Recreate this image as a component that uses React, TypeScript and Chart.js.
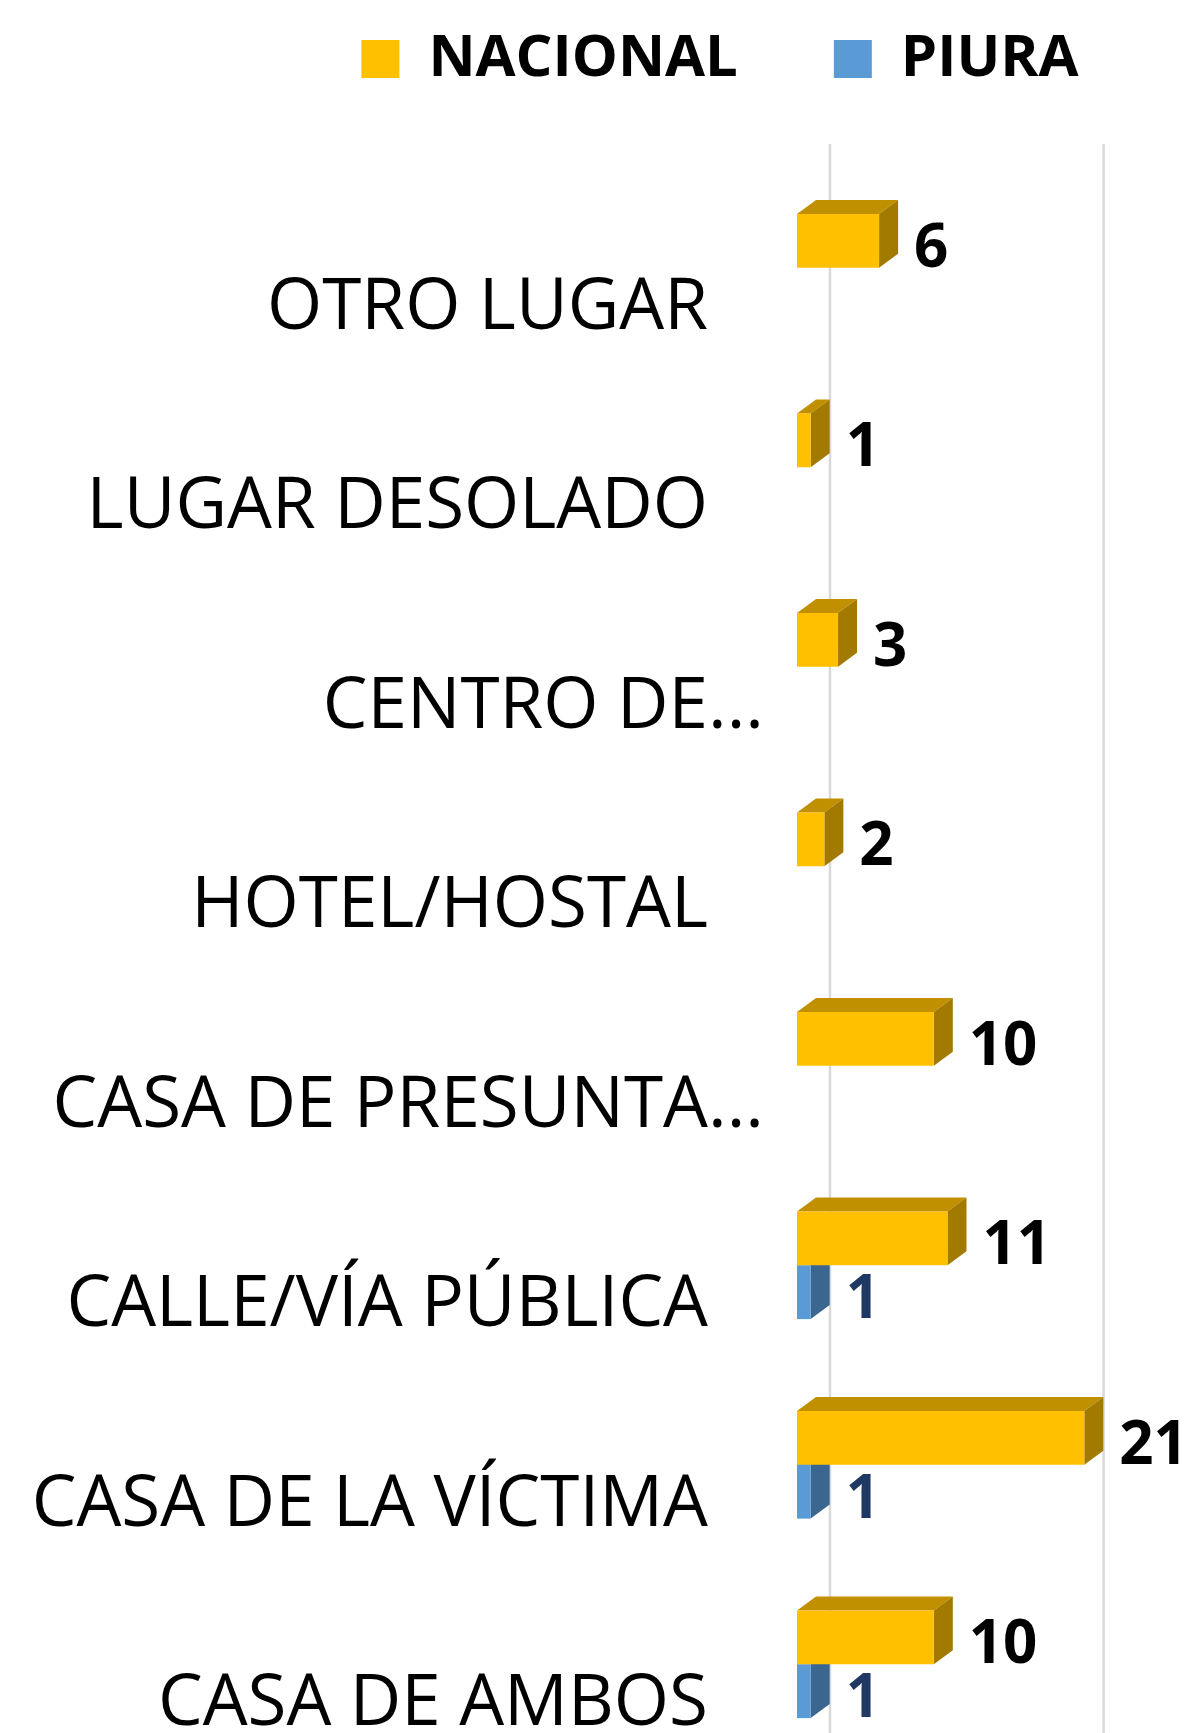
import React, { useEffect, useRef } from "react";
import { Chart, registerables } from "chart.js";

Chart.register(...registerables);

// ---- data ----
const categories = [
  "OTRO LUGAR",
  "LUGAR DESOLADO",
  "CENTRO DE...",
  "HOTEL/HOSTAL",
  "CASA DE PRESUNTA...",
  "CALLE/VÍA PÚBLICA",
  "CASA DE LA VÍCTIMA",
  "CASA DE AMBOS",
];
const seriesNames = ["NACIONAL", "PIURA"];
const nacional: (number | null)[] = [6, 1, 3, 2, 10, 11, 21, 10];
const piura: (number | null)[] = [null, null, null, null, null, 1, 1, 1];
const gridValues = [0, 20, 40];

// ---- style ----
const FONT = '"Open Sans", "Noto Sans", sans-serif';
const DX = 19;
const DY = 14;
const WALL_DX = 33;
const WALL_DY = 24;
const shades = [
  { front: "#FFC000", top: "#C09000", side: "#A37A00", label: "#000000" },
  { front: "#5B9BD5", top: "#4A7FB0", side: "#3A6690", label: "#1F3864" },
];

const threeDPlugin = {
  id: "threeD",
  beforeDatasetsDraw(chart: any) {
    const { ctx, chartArea, scales } = chart;
    const x = scales.x;
    ctx.save();
    ctx.strokeStyle = "#D9D9D9";
    ctx.lineWidth = 2.5;
    gridValues.forEach((v) => {
      const px = x.getPixelForValue(v) + WALL_DX;
      ctx.beginPath();
      ctx.moveTo(px, chartArea.top - WALL_DY);
      ctx.lineTo(px, chartArea.bottom);
      ctx.stroke();
    });
    for (const di of [1, 0]) {
      const meta = chart.getDatasetMeta(di);
      meta.data.forEach((el: any, i: number) => {
        const v = chart.data.datasets[di].data[i];
        if (v == null) return;
        const p = el.getProps(["x", "y", "base", "height"], true);
        const top = p.y - p.height / 2;
        const bottom = p.y + p.height / 2;
        ctx.fillStyle = shades[di].top;
        ctx.beginPath();
        ctx.moveTo(p.base, top);
        ctx.lineTo(p.base + DX, top - DY);
        ctx.lineTo(p.x + DX, top - DY);
        ctx.lineTo(p.x, top);
        ctx.closePath();
        ctx.fill();
        ctx.fillStyle = shades[di].side;
        ctx.beginPath();
        ctx.moveTo(p.x, top);
        ctx.lineTo(p.x + DX, top - DY);
        ctx.lineTo(p.x + DX, bottom - DY);
        ctx.lineTo(p.x, bottom);
        ctx.closePath();
        ctx.fill();
      });
    }
    ctx.restore();
  },
  afterDatasetsDraw(chart: any) {
    const { ctx, chartArea, scales } = chart;
    const yScale = scales.y;
    ctx.save();
    // value labels
    ctx.font = `bold 60px ${FONT}`;
    ctx.textAlign = "left";
    ctx.textBaseline = "middle";
    for (const di of [0, 1]) {
      const meta = chart.getDatasetMeta(di);
      meta.data.forEach((el: any, i: number) => {
        const v = chart.data.datasets[di].data[i];
        if (v == null) return;
        const p = el.getProps(["x", "y"], true);
        ctx.fillStyle = shades[di].label;
        ctx.fillText(String(v), p.x + DX + 16, p.y + 9);
      });
    }
    // category labels
    ctx.font = `71px ${FONT}`;
    ctx.fillStyle = "#000000";
    const xr = chartArea.left - 89;
    chart.data.labels.forEach((c: string, i: number) => {
      const yy = yScale.getPixelForValue(i) + 41;
      const m = c.match(/^(.*?)(\.\.\.)$/);
      if (m) {
        ctx.textAlign = "right";
        ctx.fillText(m[1], xr, yy);
        ctx.textAlign = "left";
        ctx.fillText(m[2], xr, yy);
      } else {
        ctx.textAlign = "right";
        ctx.fillText(c, xr, yy);
      }
    });
    ctx.restore();
  },
};

export default function App() {
  const ref = useRef<HTMLCanvasElement>(null);
  useEffect(() => {
    if (!ref.current) return;
    const chart = new Chart(ref.current, {
      type: "bar",
      data: {
        labels: categories,
        datasets: [
          {
            label: seriesNames[0],
            data: nacional,
            backgroundColor: shades[0].front,
            borderColor: shades[0].front,
            borderWidth: 0,
            categoryPercentage: 0.54,
            barPercentage: 1,
          },
          {
            label: seriesNames[1],
            data: piura,
            backgroundColor: shades[1].front,
            borderColor: shades[1].front,
            borderWidth: 0,
            categoryPercentage: 0.54,
            barPercentage: 1,
          },
        ],
      },
      options: {
        indexAxis: "y",
        animation: false,
        responsive: false,
        devicePixelRatio: 1,
        layout: { padding: { top: 0, left: 0, right: 0, bottom: 30 } },
        plugins: {
          tooltip: { enabled: false },
          legend: {
            position: "top",
            align: "center",
            labels: {
              boxWidth: 38,
              boxHeight: 38,
              padding: 96,
              color: "#000000",
              font: { family: FONT, size: 58, weight: "bold" },
            },
          },
        },
        scales: {
          x: {
            type: "linear",
            position: "top",
            min: 0,
            max: 47,
            ticks: { display: false, stepSize: 20 },
            grid: { display: false },
            border: { display: false },
            afterFit: (s: any) => {
              s.height = 70;
            },
          },
          y: {
            type: "category",
            ticks: { display: false },
            grid: { display: false },
            border: { display: false },
            afterFit: (s: any) => {
              s.width = 797;
            },
          },
        },
      },
      plugins: [threeDPlugin],
    } as any);
    return () => chart.destroy();
  }, []);

  return (
    <div
      style={{
        position: "fixed",
        left: 0,
        top: 0,
        width: 1194,
        height: 1733,
        overflow: "hidden",
        background: "#ffffff",
      }}
    >
      <canvas
        ref={ref}
        width={1440}
        height={1860}
        style={{ position: "absolute", left: 0, top: -66, width: 1440, height: 1860 }}
      />
    </div>
  );
}
